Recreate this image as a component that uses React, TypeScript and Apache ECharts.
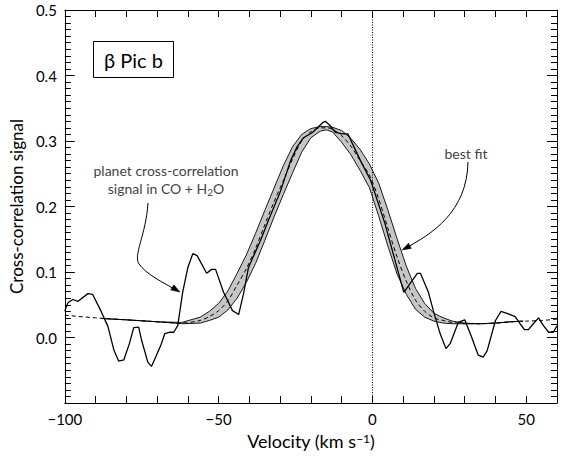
import React, { useEffect, useRef } from "react";
import * as echarts from "echarts";

// Observed cross-correlation signal (velocity km/s, signal)
const obsV = [-100, -99, -97.4, -95.8, -92.5, -91, -88.3, -86, -84, -82.5, -80.8, -79, -77.6, -76, -75, -73, -71.8, -70.5, -68.8, -67.5, -66, -64.6, -63.3, -61.7, -60, -58.4, -57, -53.9, -52.3, -51, -48.4, -45.5, -43.5, -41.9, -40.3, -36.4, -33.8, -30, -26.6, -24.5, -22.4, -19.5, -16.2, -15.3, -13.9, -12, -9.7, -8, -6.5, -3.9, -0.6, 4, 7.5, 10.2, 14.6, 15.6, 18.2, 19.8, 22, 23.9, 25.3, 27.9, 30, 31.8, 34.4, 36, 37.3, 40, 41.8, 44.2, 46.4, 48, 49.4, 50.7, 52.3, 54, 55.6, 57.3, 58.8, 60];
const obsS = [0.041, 0.053, 0.058, 0.055, 0.067, 0.066, 0.041, 0.017, -0.02, -0.036, -0.034, -0.009, 0.015, 0.016, -0.005, -0.038, -0.044, -0.03, -0.012, 0.006, 0.008, 0.008, 0.018, 0.069, 0.107, 0.128, 0.125, 0.098, 0.104, 0.104, 0.069, 0.041, 0.035, 0.067, 0.107, 0.148, 0.179, 0.222, 0.27, 0.291, 0.305, 0.313, 0.328, 0.33, 0.324, 0.313, 0.311, 0.311, 0.296, 0.27, 0.24, 0.175, 0.115, 0.069, 0.098, 0.098, 0.069, 0.041, 0.006, -0.017, -0.009, 0.023, 0.027, 0.006, -0.027, -0.03, -0.02, 0.026, 0.04, 0.036, 0.032, 0.021, 0.012, 0.012, 0.021, 0.03, 0.018, 0.008, 0.008, 0.018];

// Best fit (dashed) over the full range
const fitV = [-100, -90, -80, -70, -62, -56, -53, -50, -47, -44, -41, -38, -35, -32, -29, -26, -23, -20, -17, -15, -13, -10, -7, -4, -1, 2, 5, 8, 11, 14, 17, 20, 23, 26, 30, 35, 40, 45, 50, 55, 60];
const fitS = [0.034, 0.030, 0.027, 0.024, 0.022, 0.026, 0.032, 0.041, 0.056, 0.080, 0.105, 0.136, 0.172, 0.207, 0.239, 0.272, 0.300, 0.314, 0.320, 0.320, 0.318, 0.308, 0.292, 0.270, 0.248, 0.212, 0.167, 0.123, 0.086, 0.057, 0.040, 0.030, 0.026, 0.023, 0.021, 0.021, 0.022, 0.024, 0.025, 0.026, 0.028];

// Uncertainty band edges
const bandV = [-88, -80, -70, -62, -56, -53, -50, -47, -44, -41, -38, -35, -32, -29, -26, -23, -20, -17, -15, -13, -10, -7, -4, -1, 2, 5, 8, 11, 14, 17, 20, 23, 26, 30, 35, 40, 45, 49];
const bandOuter = [0.029, 0.027, 0.024, 0.023, 0.031, 0.040, 0.052, 0.071, 0.098, 0.126, 0.159, 0.194, 0.228, 0.262, 0.291, 0.310, 0.319, 0.322, 0.322, 0.321, 0.316, 0.304, 0.287, 0.265, 0.236, 0.195, 0.151, 0.109, 0.075, 0.052, 0.037, 0.030, 0.025, 0.022, 0.021, 0.022, 0.024, 0.025];
const bandInner = [0.029, 0.027, 0.024, 0.021, 0.022, 0.026, 0.031, 0.042, 0.060, 0.084, 0.113, 0.148, 0.184, 0.218, 0.251, 0.283, 0.305, 0.315, 0.317, 0.314, 0.298, 0.279, 0.255, 0.229, 0.186, 0.140, 0.097, 0.066, 0.043, 0.031, 0.025, 0.022, 0.021, 0.021, 0.021, 0.022, 0.024, 0.025];

const xLabels = [-100, -50, 0, 50];
const yLabels = [0, 0.1, 0.2, 0.3, 0.4, 0.5];

const FONT = "Lato, 'Noto Sans', sans-serif";

const zip = (a: number[], b: number[]) => a.map((v, i) => [v, b[i]]);

export default function App() {
  const ref = useRef<HTMLDivElement>(null);
  useEffect(() => {
    if (!ref.current) return;
    const chart = echarts.init(ref.current, null, { renderer: "svg" });
    const fmtX = (v: number) => (xLabels.includes(v) ? (v < 0 ? "\u2212" + Math.abs(v) : String(v)) : "");
    const fmtY = (v: number) => {
      const r = Math.round(v * 10) / 10;
      return yLabels.some((y) => Math.abs(y - r) < 1e-9) ? r.toFixed(1) : "";
    };
    const xCommon = {
      type: "value",
      min: -100,
      max: 60,
      interval: 10,
      axisLine: { show: true, onZero: false, lineStyle: { color: "#000", width: 1 } },
      axisTick: { show: true, inside: true, length: 7, lineStyle: { color: "#000" } },
      splitLine: { show: false },
    };
    const yCommon = {
      type: "value",
      min: -0.1,
      max: 0.5,
      interval: 0.1,
      axisLine: { show: true, onZero: false, lineStyle: { color: "#000", width: 1 } },
      axisTick: { show: true, inside: true, length: 10, lineStyle: { color: "#000" } },
      minorTick: { show: true, splitNumber: 10, length: 6, lineStyle: { color: "#000" } },
      splitLine: { show: false },
      minorSplitLine: { show: false },
    };
    chart.setOption({
      animation: false,
      backgroundColor: "#fff",
      grid: { left: 64, right: 4, top: 10, bottom: 54 },
      xAxis: [
        {
          ...xCommon,
          position: "bottom",
          axisLabel: { formatter: fmtX, color: "#000", fontSize: 15, fontFamily: FONT, margin: 8 },
          name: "Velocity (km s{sup|\u22121})",
          nameLocation: "middle",
          nameGap: 29,
          nameTextStyle: {
            fontSize: 18,
            color: "#000",
            fontFamily: FONT,
            rich: { sup: { fontSize: 12, fontFamily: FONT, color: "#000", verticalAlign: "top", padding: [0, 0, 6, 0] } },
          },
        },
        { ...xCommon, position: "top", axisLabel: { show: false } },
      ],
      yAxis: [
        {
          ...yCommon,
          position: "left",
          axisLabel: { formatter: fmtY, color: "#000", fontSize: 15, fontFamily: FONT, margin: 8 },
          name: "Cross-correlation signal",
          nameLocation: "middle",
          nameGap: 38,
          nameTextStyle: { fontSize: 17, color: "#000", fontFamily: FONT },
        },
        { ...yCommon, position: "right", axisLabel: { show: false } },
      ],
      series: [
        {
          type: "custom",
          name: "band",
          xAxisIndex: 0,
          yAxisIndex: 0,
          data: [[-15, 0.32]],
          encode: { x: 0, y: 1 },
          silent: true,
          z: 1,
          renderItem: (_params: any, api: any) => {
            const top = bandV.map((v, i) => api.coord([v, bandOuter[i]]));
            const bot = bandV.map((v, i) => api.coord([v, bandInner[i]])).reverse();
            return {
              type: "polygon",
              shape: { points: top.concat(bot) },
              style: { fill: "#c6c6c6", stroke: "none" },
            };
          },
        },
        {
          type: "line",
          name: "outer",
          data: zip(bandV, bandOuter),
          symbol: "none",
          lineStyle: { color: "#000", width: 0.9 },
          z: 2,
        },
        {
          type: "line",
          name: "inner",
          data: zip(bandV, bandInner),
          symbol: "none",
          lineStyle: { color: "#000", width: 0.9 },
          z: 2,
        },
        {
          type: "line",
          name: "fit",
          data: zip(fitV, fitS),
          symbol: "none",
          smooth: 0.3,
          lineStyle: { color: "#000", width: 1, type: [4, 3] },
          z: 3,
        },
        {
          type: "line",
          name: "observed",
          data: zip(obsV, obsS),
          symbol: "none",
          lineStyle: { color: "#000", width: 1.3 },
          z: 4,
          markLine: {
            silent: true,
            symbol: "none",
            label: { show: false },
            lineStyle: { color: "#000", width: 1, type: [1, 1.5] },
            data: [{ xAxis: 0 }],
          },
        },
      ],
      graphic: [
        {
          type: "rect",
          shape: { x: 93.5, y: 41.5, width: 80, height: 36 },
          style: { fill: "#fff", stroke: "#000", lineWidth: 1 },
          z: 10,
        },
        {
          type: "text",
          x: 133.5,
          y: 59.5,
          style: { text: "\u03b2 Pic b", fontSize: 20, fontFamily: FONT, fill: "#000", align: "center", verticalAlign: "middle" },
          z: 11,
        },
        {
          type: "text",
          x: 166,
          y: 179,
          style: {
            text: "planet cross-correlation\nsignal in CO + H{sub|2}O",
            fontSize: 14,
            lineHeight: 18,
            fontFamily: FONT,
            fill: "#444",
            align: "center",
            verticalAlign: "middle",
            rich: { sub: { fontSize: 10, fontFamily: FONT, fill: "#444", padding: [7, 0, 0, 0] } },
          },
          z: 11,
        },
        {
          type: "text",
          x: 466,
          y: 153,
          style: { text: "best fit", fontSize: 14, fontFamily: FONT, fill: "#444", align: "center", verticalAlign: "middle" },
          z: 11,
        },
        {
          type: "bezierCurve",
          shape: { x1: 148, y1: 203, cpx1: 146, cpy1: 235, cpx2: 133, cpy2: 255, x2: 139, y2: 264 },
          style: { stroke: "#000", lineWidth: 1, fill: "none" },
          z: 11,
        },
        {
          type: "bezierCurve",
          shape: { x1: 139, y1: 264, cpx1: 146, cpy1: 274, cpx2: 162, cpy2: 282, x2: 178, y2: 291 },
          style: { stroke: "#000", lineWidth: 1, fill: "none" },
          z: 11,
        },
        {
          type: "polygon",
          shape: { points: [[180, 292], [170.7, 290.0], [173.8, 284.8]] },
          style: { fill: "#000", stroke: "#000", lineWidth: 0.5 },
          z: 11,
        },
        {
          type: "bezierCurve",
          shape: { x1: 468, y1: 162, cpx1: 467, cpy1: 212, cpx2: 432, cpy2: 234, x2: 404, y2: 249 },
          style: { stroke: "#000", lineWidth: 1, fill: "none" },
          z: 11,
        },
        {
          type: "polygon",
          shape: { points: [[402, 250], [411.3, 248.4], [408.5, 243.2]] },
          style: { fill: "#000", stroke: "#000", lineWidth: 0.5 },
          z: 11,
        },
      ],
    });
    return () => chart.dispose();
  }, []);
  return <div ref={ref} style={{ width: 561, height: 457, position: "absolute", left: 0, top: 0 }} />;
}
